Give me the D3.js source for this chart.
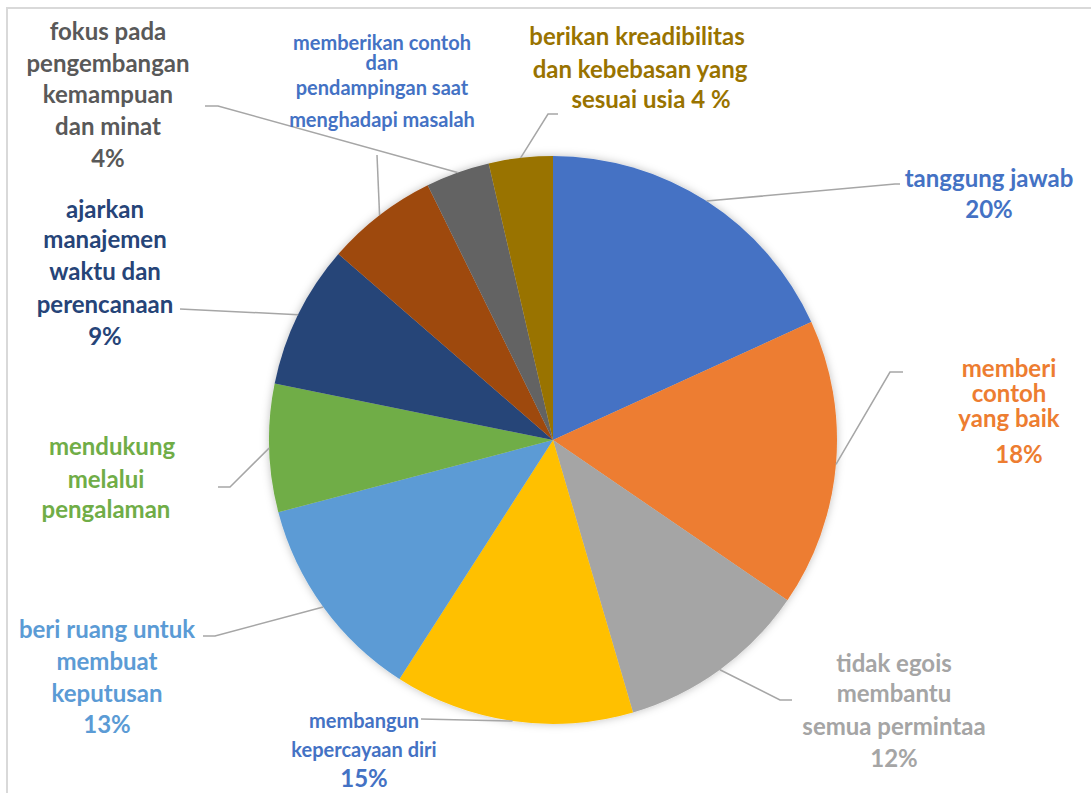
<!DOCTYPE html>
<html>
<head>
<meta charset="utf-8">
<script src="https://cdn.jsdelivr.net/npm/d3@7"></script>
<style>
  body { margin: 0; background: #fff; }
  text { font-family: Lato, "Open Sans", sans-serif; font-weight: bold; }
</style>
</head>
<body>
<div id="chart"></div>
<script>
var width = 1091, height = 793;
var cx = 553, cy = 440, radius = 284;

// data
const categories = [
  "tanggung jawab", "memberi contoh yang baik", "tidak egois membantu semua permintaa",
  "membangun kepercayaan diri", "beri ruang untuk membuat keputusan", "mendukung melalui pengalaman",
  "ajarkan manajemen waktu dan perencanaan", "memberikan contoh dan pendampingan saat menghadapi masalah",
  "fokus pada pengembangan kemampuan dan minat", "berikan kreadibilitas dan kebebasan yang sesuai usia"
];
const values = [20, 18, 12, 15, 13, 8, 9, 7, 4, 4];
const percentLabels = ["20%", "18%", "12%", "15%", "13%", "", "9%", "", "4%", "4 %"];
const labelLines = [
  ["tanggung jawab", "20%"],
  ["memberi", "contoh", "yang baik", "18%"],
  ["tidak egois", "membantu", "semua permintaa", "12%"],
  ["membangun", "kepercayaan diri", "15%"],
  ["beri ruang untuk", "membuat", "keputusan", "13%"],
  ["mendukung", "melalui", "pengalaman"],
  ["ajarkan", "manajemen", "waktu dan", "perencanaan", "9%"],
  ["memberikan contoh", "dan", "pendampingan saat", "menghadapi masalah"],
  ["fokus pada", "pengembangan", "kemampuan", "dan minat", "4%"],
  ["berikan kreadibilitas", "dan kebebasan yang", "sesuai usia 4 %"]
];
const colors = ["#4472C4", "#ED7D31", "#A5A5A5", "#FFC000", "#5B9BD5",
                "#70AD47", "#264478", "#9E480E", "#636363", "#997300"];
const textColors = ["#4472C4", "#ED7D31", "#A5A5A5", "#4472C4", "#5B9BD5",
                    "#70AD47", "#264478", "#4472C4", "#595959", "#997300"];

// label placement (layout only)
const layout = [
  {x: [989], y: [187, 218], size: [24], leader: [[895, 184], [900, 184]]},
  {x: [1009, 1009, 1009, 1019], y: [377, 402, 427, 463], size: [24], leader: [[890, 372], [903, 372]]},
  {x: [894], y: [672, 702, 735, 767], size: [24], leader: [[780, 700], [792, 700]]},
  {x: [364], y: [728, 757, 787], size: [20, 20, 24], leader: [[421, 719]]},
  {x: [107], y: [638, 670, 702, 733], size: [24], leader: [[215, 636], [203, 636]]},
  {x: [112, 106, 106], y: [455, 488, 518], size: [24], leader: [[230, 487], [218, 487]]},
  {x: [105], y: [218, 248, 280, 313, 345], size: [24], leader: [[180, 309]]},
  {x: [382], y: [50, 70, 95, 127], size: [20], leader: [[377, 155]]},
  {x: [108], y: [40, 72, 103, 135, 167], size: [24], leader: [[218, 106], [205, 106]]},
  {x: [637, 640, 651], y: [45, 78, 108], size: [24], leader: [[548, 114], [558, 114]]}
];

let svg = d3.select('#chart')
  .append('svg')
  .attr('width', width)
  .attr('height', height)

// chart border (runs off the right/bottom edge)
svg.append('rect')
  .attr('x', 7).attr('y', 8)
  .attr('width', 1200).attr('height', 1000)
  .attr('fill', '#fff')
  .attr('stroke', '#d9d9d9')
  .attr('stroke-width', 2)

let defs = svg.append('defs');
let f = defs.append('filter').attr('id', 'shadow')
  .attr('x', '-10%').attr('y', '-10%').attr('width', '120%').attr('height', '120%');
f.append('feDropShadow')
  .attr('dx', 0).attr('dy', 0).attr('stdDeviation', 4)
  .attr('flood-color', '#000').attr('flood-opacity', 0.25);

let pie = d3.pie().sort(null).value(d => d);
let arcs = pie(values);
let arc = d3.arc().innerRadius(0).outerRadius(radius);

let g = svg.append('g')
  .attr('transform', `translate(${cx},${cy})`)

g.append('g').attr('filter', 'url(#shadow)')
  .selectAll('path')
  .data(arcs)
  .enter()
  .append('path')
  .attr('d', arc)
  .attr('fill', (d, i) => colors[i])

// leader lines, from the slice edge at its middle angle
let edge = d => {
  let a = (d.startAngle + d.endAngle) / 2;
  return [cx + radius * Math.sin(a), cy - radius * Math.cos(a)];
}
let line = d3.line();

svg.selectAll('.leader')
  .data(arcs)
  .enter()
  .append('path')
  .attr('class', 'leader')
  .attr('d', (d, i) => line([edge(d)].concat(layout[i].leader)))
  .attr('fill', 'none')
  .attr('stroke', '#a6a6a6')
  .attr('stroke-width', 1.5)

// labels
labelLines.forEach((lines, i) => {
  let L = layout[i];
  let t = svg.append('text')
    .attr('fill', textColors[i])
    .attr('text-anchor', 'middle')
  lines.forEach((s, j) => {
    t.append('tspan')
      .attr('x', L.x[j] !== undefined ? L.x[j] : L.x[0])
      .attr('y', L.y[j])
      .attr('font-size', L.size[j] !== undefined ? L.size[j] : L.size[0])
      .text(s)
  })
})
</script>
</body>
</html>
